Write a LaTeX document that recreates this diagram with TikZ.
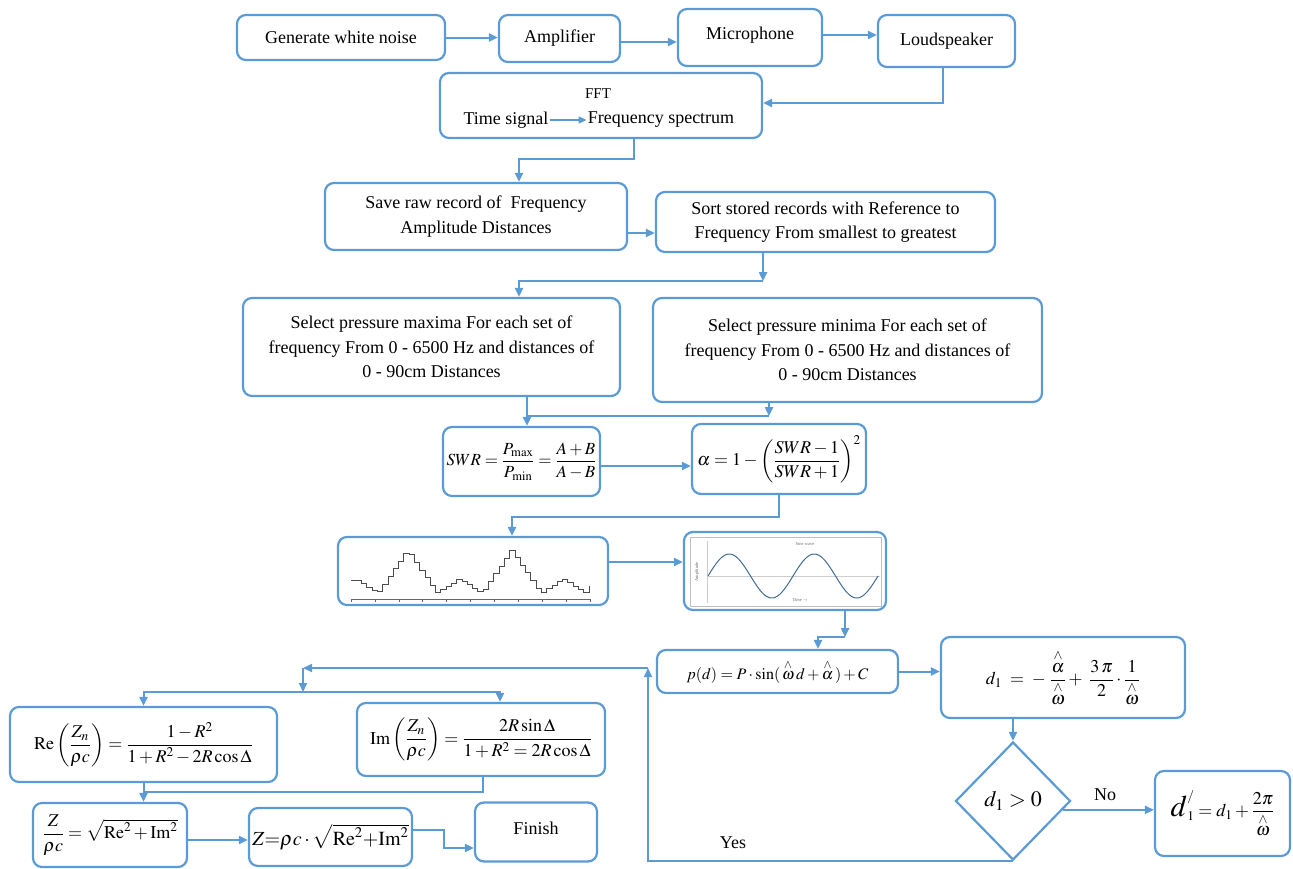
\documentclass[tikz,border=0pt]{standalone}
\usepackage{amsmath}
\usepackage{mathptmx}
\usepackage[no-math]{fontspec}
\setmainfont{Liberation Serif}
\usetikzlibrary{arrows.meta,shapes.geometric}
\definecolor{flowblue}{RGB}{91,155,213}
\newcommand{\hatw}{\overset{\wedge}{\omega}}
\newcommand{\hata}{\overset{\wedge}{\alpha}}
\begin{document}
\begin{tikzpicture}[x=1pt,y=-1pt,
  font=\fontsize{18}{24.5}\selectfont,
  box/.style={draw=flowblue,line width=2.2pt,rounded corners=9pt,align=center,inner sep=0pt},
  link/.style={draw=flowblue,line width=2pt,-{Triangle[length=9pt,width=8pt]}},
  wire/.style={draw=flowblue,line width=2pt},
  plotlabel/.style={font=\fontsize{4.5}{5}\selectfont,text=black!60,inner sep=0pt}]
\useasboundingbox (0,0) rectangle (1293,868);
\node[box,minimum width=208pt,minimum height=45pt] (gen) at (341,37.5) {Generate white noise};
\node[box,minimum width=121pt,minimum height=47pt] (amp) at (559.5,38.5) {Amplifier};
\node[box,minimum width=144pt,minimum height=57pt] (mic) at (750,37.5) {Microphone\\[-16pt]\mbox{}};
\node[box,minimum width=137pt,minimum height=52pt] (loud) at (946.5,41) {Loudspeaker};
\node[box,minimum width=322pt,minimum height=65pt] (fft) at (601,105.5) {};
\node[font=\fontsize{15}{16}\selectfont] (ffttitle) at (598,94) {FFT};
\node[inner sep=1pt] (tsig) at (506,120) {Time signal};
\node[inner sep=1pt] (fspec) at (661,120) {Frequency spectrum};
\node[box,minimum width=302pt,minimum height=67pt] (save) at (476,216.5) {Save raw record of\ \ Frequency\\Amplitude Distances};
\node[box,minimum width=339pt,minimum height=60pt] (sort) at (825.5,222) {Sort stored records with Reference to\\Frequency From smallest to greatest};
\node[box,minimum width=377pt,minimum height=98pt] (max) at (431.5,347) {Select pressure maxima For each set of\\frequency From 0 - 6500 Hz and distances of\\0 - 90cm Distances};
\node[box,minimum width=389pt,minimum height=104pt] (min) at (847.5,350) {Select pressure minima For each set of\\frequency From 0 - 6500 Hz and distances of\\0 - 90cm Distances};
\node[box,minimum width=157pt,minimum height=69pt,font=\fontsize{17}{20}\selectfont] (swr) at (521.5,461.5) {$SWR=\dfrac{P_{\max}}{P_{\min}}=\dfrac{A+B}{A-B}$};
\node[box,minimum width=174pt,minimum height=70pt] (alpha) at (779,459) {$\alpha=1-\left(\dfrac{SWR-1}{SWR+1}\right)^{2}$};
\node[box,minimum width=270pt,minimum height=68pt] (stair) at (473,571) {};
\node[box,minimum width=202pt,minimum height=78pt] (sine) at (785,571) {};
\node[box,minimum width=241pt,minimum height=43pt,font=\fontsize{16}{17}\selectfont] (pd) at (777.5,671.5) {$p(d)=P\cdot\sin(\,\hatw\,d+\hata\,)+C$};
\node[box,minimum width=244pt,minimum height=81pt,font=\fontsize{18}{19}\selectfont] (d1) at (1063,677.5) {$d_{1}\;=\;-\;\dfrac{\hata}{\hatw}+\;\dfrac{3\,\pi}{2}\cdot\dfrac{1}{\hatw}$};
\node[draw=flowblue,line width=2.2pt,diamond,minimum width=115pt,minimum height=118pt,inner sep=0pt,font=\fontsize{22}{24}\selectfont] (dia) at (1013,801) {$d_{1}>0$};
\node[box,minimum width=135pt,minimum height=85pt] (d1p) at (1222.5,813.5) {$\mbox{\fontsize{30}{30}\selectfont$d$}_{1}^{/}=d_{1}+\dfrac{2\pi}{\hatw}$};
\node[box,minimum width=267pt,minimum height=75pt] (re) at (143.5,744.5) {$\mathrm{Re}\left(\dfrac{Z_{n}}{\rho c}\right)=\dfrac{1-R^{2}}{1+R^{2}-2R\cos\Delta}$};
\node[box,minimum width=248pt,minimum height=73pt] (im) at (481,739.5) {$\mathrm{Im}\left(\dfrac{Z_{n}}{\rho c}\right)=\dfrac{2R\sin\Delta}{1+R^{2}=2R\cos\Delta}$};
\node[box,minimum width=154pt,minimum height=64pt] (zrho) at (110,835) {$\dfrac{Z}{\rho c}=\sqrt{\mathrm{Re}^{2}+\mathrm{Im}^{2}}$};
\node[box,minimum width=163pt,minimum height=58pt,font=\fontsize{20}{22}\selectfont] (zz) at (330.5,837) {$Z{=}\rho c\cdot\sqrt{\mathrm{Re}^{2}{+}\mathrm{Im}^{2}}$};
\node[box,minimum width=122pt,minimum height=59pt] (finish) at (536,832) {Finish\\[-16pt]\mbox{}};
\node (no) at (1105,795) {No};
\node (yes) at (733,843) {Yes};
\coordinate (loopT) at (648,668);
\coordinate (loopL) at (303,668);
\coordinate (split) at (303,692);
\coordinate (merge) at (143.5,792);
\draw[link] (gen.east) -- (gen.east -| amp.west);
\draw[link] ([yshift=-3.5pt]amp.east) -- ([yshift=-3.5pt]amp.east -| mic.west);
\draw[link] ([yshift=2.5pt]mic.east) -- ([yshift=2.5pt]mic.east -| loud.west);
\draw[link] ([xshift=-3.5pt]loud.south) |- ([yshift=2.5pt]fft.east);
\draw[link,line width=1.6pt,-{Triangle[length=8pt,width=7pt]}] (tsig) -- (fspec);
\draw[link] ([xshift=33pt]fft.south) -- ++(0,20) -| ([xshift=43pt]save.north);
\draw[link] ([yshift=-16.5pt]save.east) -- ([yshift=-16.5pt]save.east -| sort.west);
\draw[link] ([xshift=-62.5pt]sort.south) -- ++(0,28) coordinate (j1);
\draw[link] (j1) -| ([xshift=87.5pt]max.north);
\draw[link] ([xshift=95.5pt]max.south) -- ([xshift=95.5pt]max.south |- swr.north);
\draw[link] ([xshift=-78.5pt]min.south) -- ++(0,13) coordinate (j2);
\draw[wire] (j2) -- ([xshift=5.5pt]swr.north |- j2);
\draw[link] ([yshift=-4.5pt]swr.east) -- ([yshift=-4.5pt]swr.east -| alpha.west);
\draw[link] (alpha.south) -- ++(0,22) -| ([xshift=39pt]stair.north);
\draw[link] ([yshift=9pt]stair.east) -- ([yshift=9pt]stair.east -| sine.west);
\draw[link] ([xshift=60pt]sine.south) -- ++(0,26) coordinate (j3);
\draw[link] (j3) -| ([xshift=40.5pt]pd.north);
\draw[link] (pd.east) -- (pd.east -| d1.west);
\draw[link] (d1.south -| dia.north) -- (dia.north);
\draw[link] (dia.-10) -- (dia.-10 -| d1p.west);
\draw[link] (dia.south) -| (loopT);
\draw[link] (loopT) -- (loopL);
\draw[link] (loopL) -- (split);
\draw[link] (split) -| (re.north);
\draw[link] (split) -| ([xshift=19pt]im.north);
\draw[wire] ([xshift=2pt]im.south) |- (merge);
\draw[link] (re.south) -- (re.south |- zrho.north);
\draw[link] ([yshift=-5pt]zrho.east) -- ([yshift=-5pt]zrho.east -| zz.west);
\draw[link] ([yshift=7pt]zz.east) -- ++(31,0) |- ([yshift=-16pt]finish.west);
\draw[black!60,line width=0.6pt] (351,599) -- (590,599);
\foreach \t in {0,...,10}
  \draw[black!60,line width=0.6pt] (351+23.9*\t,599) -- ++(0,2.5);
\draw[black!70,line width=0.9pt] plot[const plot,domain=351:589,samples=46]
  (\x,{593.7-43.4*max(0,1-abs(Mod(\x-354,104)-52)/30)
   -15*max(0,1-abs(Mod(\x-406,104)-52)/23)});
\draw[black!25,line width=0.6pt] (690,537) rectangle (881,606);
\draw[black!20,line width=0.4pt] (707,541) -- (707,603);
\draw[black!20,line width=0.4pt] (707,576) -- (880,576);
\draw[flowblue!70!black,line width=1pt] plot[domain=708:878,samples=90]
  (\x,{576-22*sin((\x-708)/85*360)});
\node[plotlabel] (sinetitle) at (805,544) {Sine wave};
\node[plotlabel] (sinetime) at (800,600) {Time $\rightarrow$};
\node[plotlabel,rotate=90] (sineamp) at (697,572) {Amplitude};
\end{tikzpicture}
\end{document}
